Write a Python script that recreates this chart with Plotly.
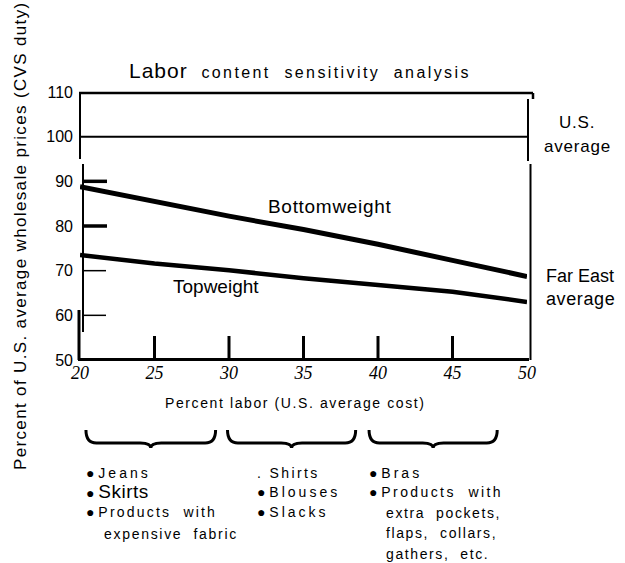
import plotly.graph_objects as go

# ---------------- data ----------------
percent_labor = [20, 25, 30, 35, 40, 45, 50]
bottomweight = [88.8, 85.4, 82.2, 79.2, 75.9, 72.3, 68.7]
topweight = [73.5, 71.6, 70.1, 68.3, 66.8, 65.3, 63.0]
us_average = [100, 100]
us_average_x = [20, 50]

x_ticks = [20, 25, 30, 35, 40, 45, 50]
x_tick_labels = ["20", "25", "30", "35", "40", "45", "50"]
y_ticks = [50, 60, 70, 80, 90, 100, 110]
y_tick_labels = ["50", "60", "70", "80", "90", "100", "110"]

bold_y_ticks = [90, 80]
thin_y_ticks = [70, 60]
inner_x_ticks = [25, 30, 35, 40, 45]

group_ranges = [(20.4, 29.1), (29.9, 38.5), (39.4, 48.0)]
group_items = [
    ["Jeans", "Skirts", "Products with", "expensive fabric"],
    ["Shirts", "Blouses", "Slacks"],
    ["Bras", "Products with", "extra pockets,", "flaps, collars,", "gathers, etc."],
]

title_text = "Labor content sensitivity analysis"
x_title = "Percent labor (U.S. average cost)"
y_title = "Percent of U.S. average wholesale prices (CVS duty)"

# ---------------- layout geometry (pixels) ----------------
W, H = 625, 563
L, R, T, B = 80, 527, 92, 360
PW, PH = R - L, B - T


def px(xp):
    return (xp - L) / PW


def py(yp):
    return (B - yp) / PH


FONT = "Liberation Sans, Arial, sans-serif"
BLACK = "#000000"

fig = go.Figure()

fig.add_trace(go.Scatter(x=percent_labor, y=bottomweight, mode="lines",
                         line=dict(color=BLACK, width=5), name="Bottomweight",
                         hoverinfo="x+y"))
fig.add_trace(go.Scatter(x=percent_labor, y=topweight, mode="lines",
                         line=dict(color=BLACK, width=4.5), name="Topweight",
                         hoverinfo="x+y"))
fig.add_trace(go.Scatter(x=us_average_x, y=us_average, mode="lines",
                         line=dict(color=BLACK, width=2), name="U.S. average",
                         hoverinfo="x+y"))

shapes = []
# frame pieces (scanned-style axis with breaks)
shapes.append(dict(type="line", xref="paper", yref="paper", x0=px(79), x1=px(533),
                   y0=py(93), y1=py(93), line=dict(color=BLACK, width=2.5)))
shapes.append(dict(type="line", xref="paper", yref="paper", x0=px(533), x1=px(533),
                   y0=py(93), y1=py(99), line=dict(color=BLACK, width=2.5)))
shapes.append(dict(type="line", xref="paper", yref="paper", x0=px(80), x1=px(80),
                   y0=py(93), y1=py(159), line=dict(color=BLACK, width=2)))
shapes.append(dict(type="line", xref="paper", yref="paper", x0=px(83), x1=px(83),
                   y0=py(164), y1=py(332), line=dict(color=BLACK, width=2)))
shapes.append(dict(type="line", xref="paper", yref="paper", x0=px(79), x1=px(79),
                   y0=py(310), y1=py(360), line=dict(color=BLACK, width=3)))
shapes.append(dict(type="line", xref="paper", yref="paper", x0=px(78), x1=px(529),
                   y0=py(359.5), y1=py(359.5), line=dict(color=BLACK, width=3)))
shapes.append(dict(type="line", xref="paper", yref="paper", x0=px(528), x1=px(528),
                   y0=py(99), y1=py(161), line=dict(color=BLACK, width=2)))
shapes.append(dict(type="line", xref="paper", yref="paper", x0=px(530.5), x1=px(530.5),
                   y0=py(164), y1=py(360), line=dict(color=BLACK, width=2)))

# y tick marks
for v in bold_y_ticks:
    shapes.append(dict(type="line", xref="paper", yref="y", x0=px(82), x1=px(107),
                       y0=v, y1=v, line=dict(color=BLACK, width=3.5)))
for v in thin_y_ticks:
    shapes.append(dict(type="line", xref="paper", yref="y", x0=px(84), x1=px(106),
                       y0=v, y1=v, line=dict(color=BLACK, width=1.5)))
# x tick marks
for v in inner_x_ticks:
    shapes.append(dict(type="line", xref="x", yref="paper", x0=v, x1=v,
                       y0=py(359), y1=py(336), line=dict(color=BLACK, width=3)))

# braces under the x axis
for (a, b) in group_ranges:
    m = (a + b) / 2
    d = 0.7
    yt, ym, yb = py(430), py(443), py(448)
    path = (f"M {a},{yt} Q {a},{ym} {a + d},{ym} "
            f"L {m - d},{ym} Q {m},{ym} {m},{yb} "
            f"Q {m},{ym} {m + d},{ym} "
            f"L {b - d},{ym} Q {b},{ym} {b},{yt}")
    shapes.append(dict(type="path", xref="x", yref="paper", path=path,
                       line=dict(color=BLACK, width=3)))

ann = []


def text(x, y, s, size=14, xanchor="center", yanchor="middle", xref="paper",
         yref="paper", angle=0, family=FONT):
    ann.append(dict(x=x, y=y, xref=xref, yref=yref, text=s, showarrow=False,
                    xanchor=xanchor, yanchor=yanchor, textangle=angle,
                    font=dict(family=family, size=size, color=BLACK)))


words = title_text.split(" ")
title_html = (f"<span style='font-size:21px;letter-spacing:1px'>{words[0]}</span>"
              f"<span style='letter-spacing:2.4px'>  {'  '.join(words[1:])}</span>")
text(px(300), py(70), title_html, size=16)

text(px(20), py(236), f"<span style='letter-spacing:1.35px'>{y_title}</span>",
     size=17, angle=-90)
text(px(295), py(403), f"<span style='letter-spacing:1.6px'>{x_title}</span>", size=14)

# line labels
text(36.8, 84.3, "<span style='letter-spacing:0.7px'>Bottomweight</span>", size=19,
     xref="x", yref="y")
text(29.1, 66.4, "Topweight", size=19, xref="x", yref="y")
text(px(577), py(123), "<span style='letter-spacing:0.8px'>U.S.</span>", size=17)
text(px(577), py(146), "<span style='letter-spacing:0.8px'>average</span>", size=17)
text(px(580), py(276), "Far East", size=18)
text(px(580), py(299), "<span style='letter-spacing:0.6px'>average</span>", size=18)

# bullet lists
BUL = "<span style='font-size:14px'>●</span>"
col_x = [84, 255, 367]
rows_y = [473, 492, 512, 534, 554]
# column 1
c = group_items[0]
text(px(col_x[0]), py(rows_y[0]), f"{BUL} <span style='letter-spacing:3px'>{c[0]}</span>",
     xanchor="left")
text(px(col_x[0]), py(rows_y[1]), f"{BUL} <span style='font-size:19px;letter-spacing:0.5px'>{c[1]}</span>",
     xanchor="left")
text(px(col_x[0]), py(rows_y[2]), f"{BUL} <span style='letter-spacing:2.2px'>{c[2].replace(' ', '  ')}</span>",
     xanchor="left")
text(px(102), py(rows_y[3]), f"<span style='letter-spacing:1.7px'>{c[3].replace(' ', '  ')}</span>",
     xanchor="left")
# column 2
c = group_items[1]
text(px(col_x[1]), py(rows_y[0]), f"<span style='letter-spacing:2.4px'>. {c[0]}</span>",
     xanchor="left")
text(px(col_x[1]), py(rows_y[1]), f"{BUL} <span style='letter-spacing:3px'>{c[1]}</span>",
     xanchor="left")
text(px(col_x[1]), py(rows_y[2]), f"{BUL} <span style='letter-spacing:3px'>{c[2]}</span>",
     xanchor="left")
# column 3
c = group_items[2]
text(px(col_x[2]), py(rows_y[0]), f"{BUL} <span style='letter-spacing:3px'>{c[0]}</span>",
     xanchor="left")
text(px(col_x[2]), py(rows_y[1]), f"{BUL} <span style='letter-spacing:2.4px'>{c[1].replace(' ', '  ')}</span>",
     xanchor="left")
for i, s in enumerate(c[2:]):
    text(px(384), py(rows_y[2] + [1, 21, 42][i]),
         f"<span style='letter-spacing:1.6px'>{s.replace(' ', '  ')}</span>",
         xanchor="left")

fig.update_layout(
    width=W, height=H, autosize=False,
    margin=dict(l=L, r=W - R, t=T, b=H - B, pad=0),
    paper_bgcolor="white", plot_bgcolor="white",
    showlegend=False,
    shapes=shapes, annotations=ann,
    xaxis=dict(range=[20, 50], tickvals=x_ticks, ticktext=x_tick_labels,
               showgrid=False, zeroline=False, showline=False, ticks="",
               tickfont=dict(family="Liberation Serif, Times New Roman, serif",
                             size=18, color=BLACK, style="italic"),
               fixedrange=True),
    yaxis=dict(range=[50, 110], tickvals=y_ticks, ticktext=y_tick_labels,
               showgrid=False, zeroline=False, showline=False, ticks="",
               ticklabelstandoff=6,
               tickfont=dict(family=FONT, size=16, color=BLACK),
               fixedrange=True),
)

fig.write_html("out.html",
               config={"displayModeBar": False},
               post_script="document.body.style.margin='0';document.body.style.overflow='hidden';")
